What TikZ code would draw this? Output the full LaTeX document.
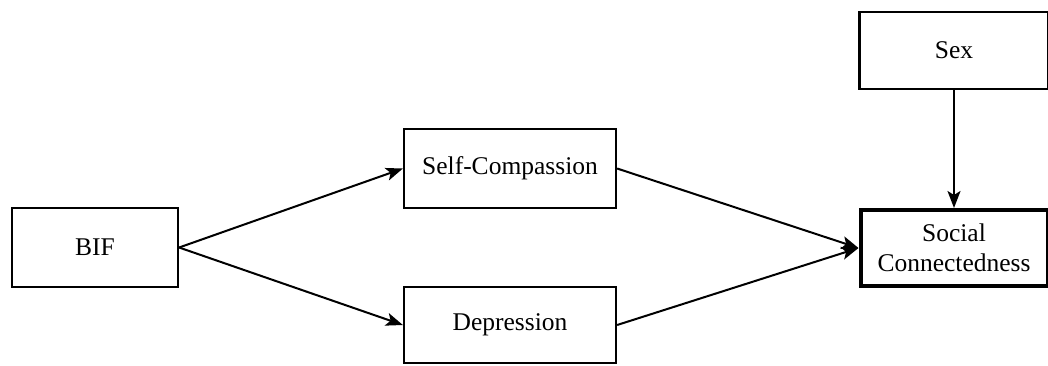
\documentclass[tikz,border=0pt]{standalone}
\usepackage{fontspec}
\setmainfont{Liberation Serif}
\usetikzlibrary{arrows.meta}
\begin{document}
\begin{tikzpicture}[x=1pt,y=-1pt,
  box/.style={draw=black,line width=2.2pt,fill=white,inner sep=0pt,align=center,
    font=\fontsize{25.5}{29.5}\selectfont},
  thickbox/.style={box,line width=4pt},
  arr/.style={line width=2pt,-{Stealth[length=17pt,width=13pt,inset=4pt]}}]
\clip (0,0) rectangle (1048,365);
\fill[white] (0,0) rectangle (1048,365);
\node[box,minimum width=166pt,minimum height=79pt] (bif) at (95,247.5) {BIF};
\node[box,minimum width=212pt,minimum height=79pt] (sc) at (510,168.5) {Self-Compassion};
\node[box,minimum width=212pt,minimum height=76pt] (dep) at (510,325) {Depression};
\node[box,minimum width=189pt,minimum height=77pt] (sex) at (954,50.5) {Sex};
\node[thickbox,minimum width=187pt,minimum height=76pt] (soc) at (954,248) {Social\\Connectedness};
\draw[arr] (bif.east) -- (sc.west);
\draw[arr] (bif.east) -- (dep.west);
\draw[arr] (sc.east) -- (soc.west);
\draw[arr] (dep.east) -- (soc.west);
\draw[arr] (sex.south) -- (soc.north);
\end{tikzpicture}
\end{document}
